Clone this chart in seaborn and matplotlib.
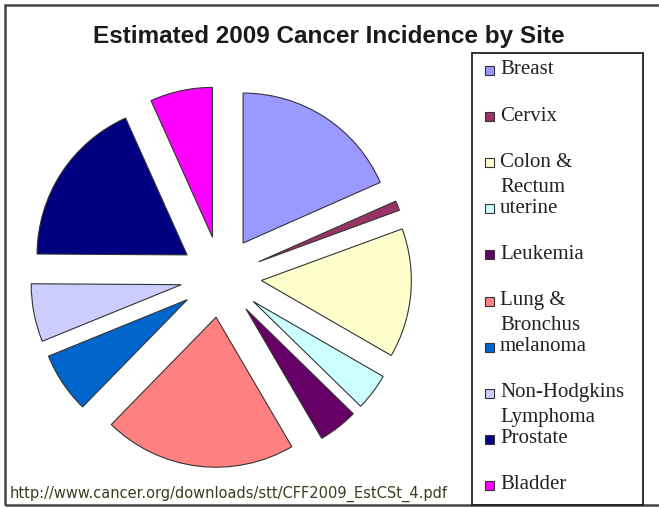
import matplotlib
matplotlib.use('Agg')
import matplotlib.pyplot as plt
from matplotlib.patches import Rectangle
import seaborn as sns

# dados (milhares de casos estimados)
sites = ['Breast', 'Cervix', 'Colon &\nRectum', 'uterine', 'Leukemia',
         'Lung &\nBronchus', 'melanoma', 'Non-Hodgkins\nLymphoma', 'Prostate', 'Bladder']
cases = [194, 11, 147, 42, 45, 219, 69, 66, 192, 71]
colors = ['#9999FF', '#993366', '#FFFFCC', '#CCFFFF', '#660066',
          '#FF8080', '#0066CC', '#CCCCFF', '#000080', '#FF00FF']
title = 'Estimated 2009 Cancer Incidence by Site'
source = 'http://www.cancer.org/downloads/stt/CFF2009_EstCSt_4.pdf'

sns.set_style('white')
palette = sns.color_palette(colors)

W, H = 659, 508
fig = plt.figure(figsize=(W / 100, H / 100), dpi=100)

# eixo da pizza: centro (221, 277) px, raio 150 px
r_px = 150
lim = 1.35
cx, cy = 221, 277
side = 2 * lim * r_px
ax = fig.add_axes([(cx - side / 2) / W, (H - cy - side / 2) / H, side / W, side / H])
ax.pie(cases, colors=palette, startangle=90, counterclock=False,
       explode=[0.27] * len(cases),
       wedgeprops=dict(edgecolor='#333333', linewidth=0.8))
ax.set_xlim(-lim, lim)
ax.set_ylim(-lim, lim)
ax.set_aspect('equal')
ax.axis('off')

# moldura externa
fig.add_artist(Rectangle((5 / W, 1 - 505 / H), 1.2, 500 / H, transform=fig.transFigure,
                         fill=False, edgecolor='#444444', linewidth=1.8))

fig.text(329 / W, 1 - 37 / H, title, ha='center', va='center',
         fontsize=17.5, fontweight='bold', family='Liberation Sans', color='#1a1a1a')

# legenda
fig.add_artist(Rectangle((472 / W, 1 - 505 / H), (643 - 472) / W, (505 - 53) / H,
                         transform=fig.transFigure, fill=False, edgecolor='#222222',
                         linewidth=1.3))
for i, (lab, col) in enumerate(zip(sites, palette)):
    y = 70 + i * 46.1
    fig.add_artist(Rectangle((485 / W, 1 - (y + 5) / H), 9 / W, 9 / H,
                             transform=fig.transFigure, facecolor=col,
                             edgecolor='#333333', linewidth=0.8))
    lines = lab.split('\n')
    for j, part in enumerate(lines):
        fig.text(500 / W, 1 - (y + j * 25) / H, part, ha='left', va='center',
                 fontsize=15, family='Liberation Serif', color='#222222')

fig.text(10 / W, 1 - 494 / H, source, ha='left', va='center',
         fontsize=10.5, family='DejaVu Sans', color='#3c3c20')

fig.savefig('out.png', dpi=100)
